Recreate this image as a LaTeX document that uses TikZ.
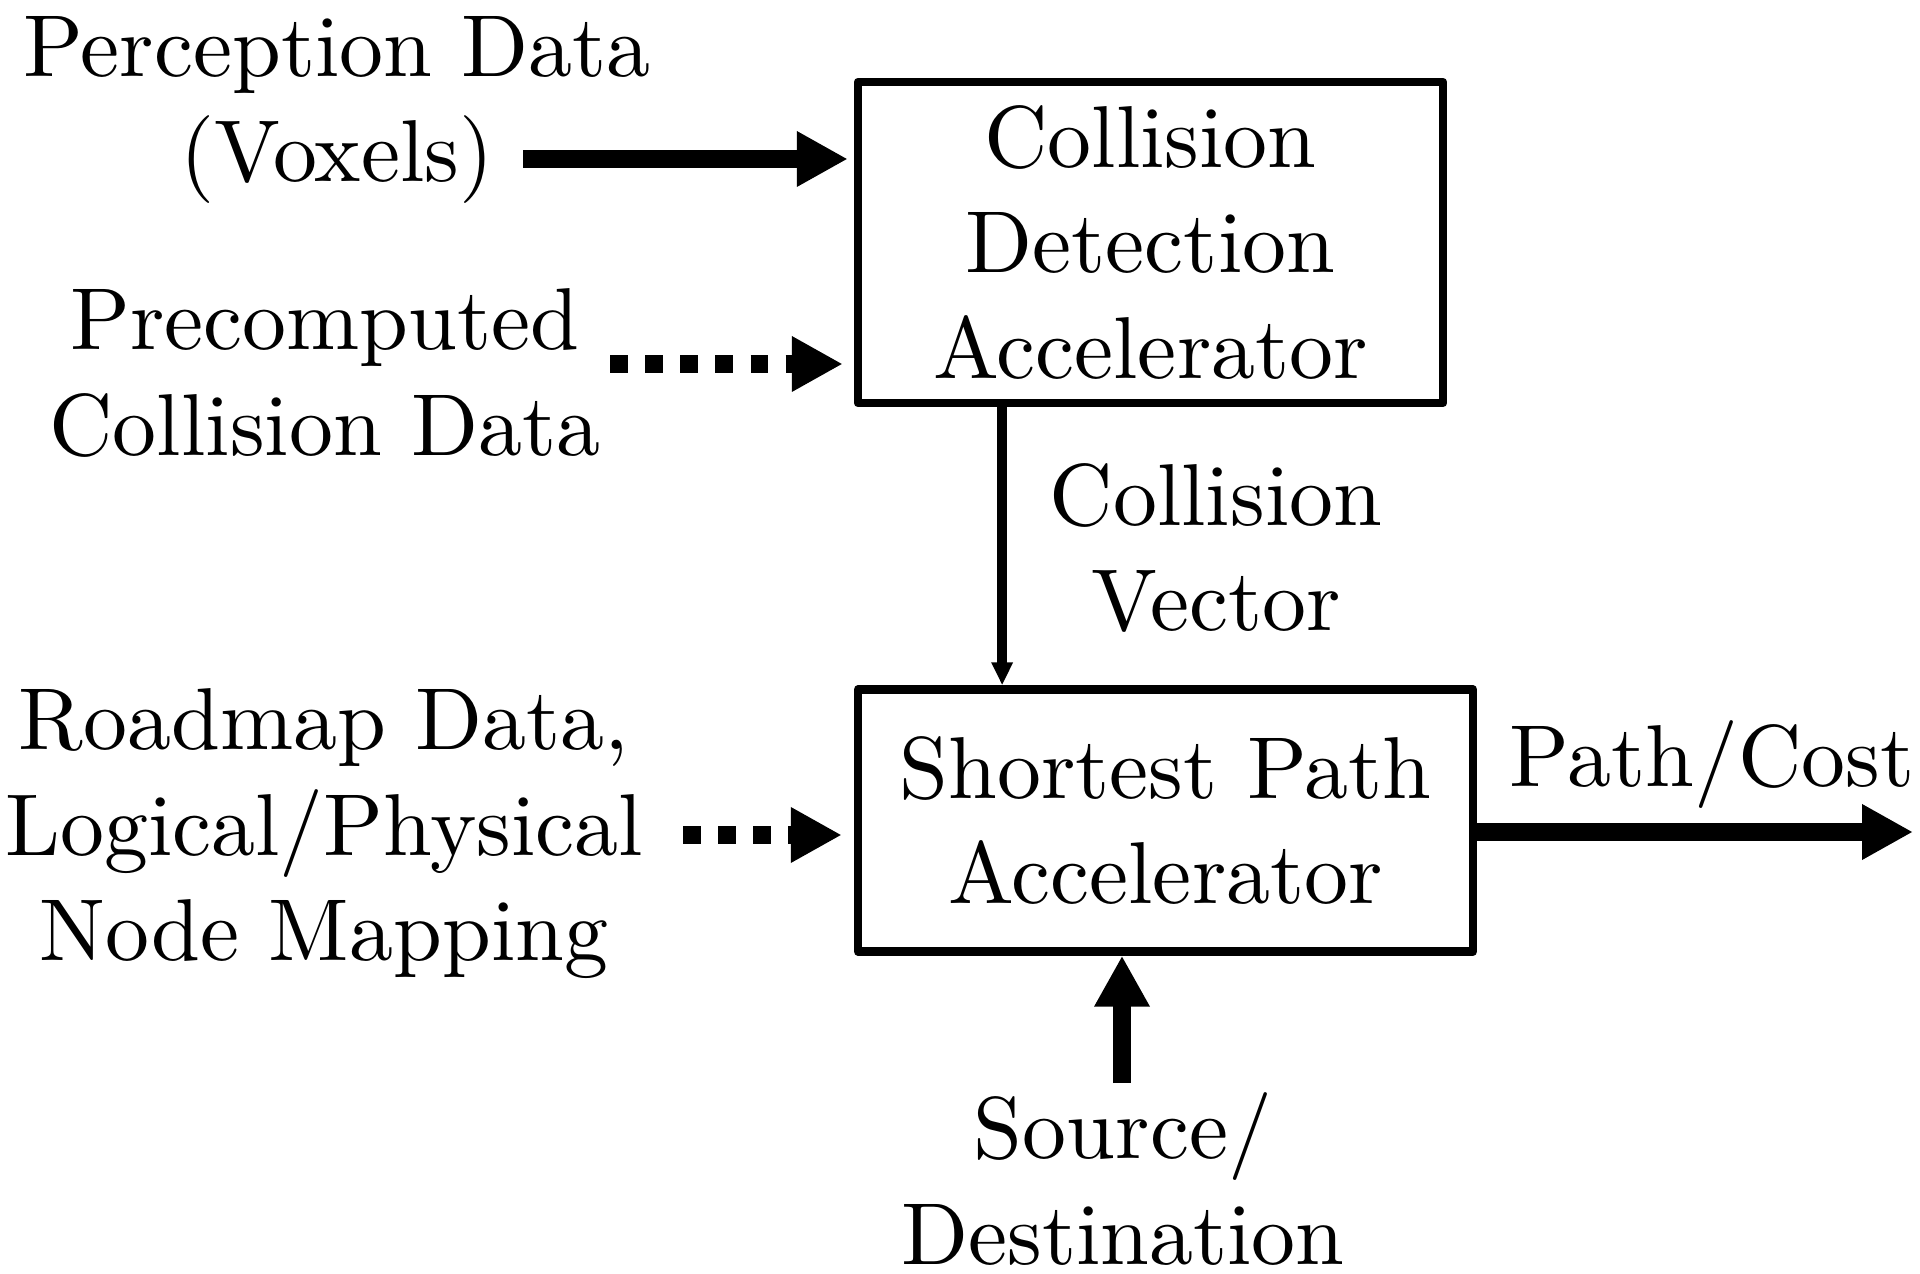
\documentclass[tikz,border=0pt]{standalone}
\usepackage{fontspec}
\setmainfont{lmroman10-regular}[Extension=.otf]
\usepackage{tikz}
\usetikzlibrary{arrows.meta,calc}
\tikzstyle{accbox} = [draw=black, line width=2.4pt, line join=round,
    rectangle, align=center]
\tikzstyle{lbl} = [align=center]
\tikzstyle{bigarrow} = [line width=5pt, -{Triangle[length=14.5pt,width=14.8pt]}]
\tikzstyle{dotarrow} = [bigarrow, dash pattern=on 5pt off 5pt]
\tikzstyle{thinarrow} = [line width=2.8pt, -{Triangle[length=6.5pt,width=5.7pt]}]

\begin{document}
\begin{tikzpicture}[font=\fontsize{25}{30}\selectfont]
\useasboundingbox (0,0) rectangle (19.2,12.73);
% the two accelerators
\node[accbox, minimum width=5.85cm, minimum height=3.21cm] (cda) at (11.505,10.305)
    {Collision\\Detection\\Accelerator};
\node[accbox, minimum width=6.15cm, minimum height=2.62cm] (spa) at (11.655,4.525)
    {Shortest Path\\Accelerator};
% inputs and outputs
\node[lbl] (perc) at (3.37,11.63) {Perception Data\\(Voxels)};
\node[lbl] (precomp) at (3.25,9.00) {Precomputed\\Collision Data};
\node[lbl] (roadmap) at (3.24,4.39) {Roadmap Data,\\Logical/Physical\\Node Mapping};
\node[lbl] (cvec) at (12.16,7.25) {Collision\\Vector};
\node[anchor=base] (cost) at (17.12,4.86) {Path/Cost};
\node[lbl, inner sep=0pt] (srcdst) at (11.23,0.94) {Source/\\Destination};
\coordinate (pin) at (5.23,11.14);
\coordinate (cin) at (6.10,9.09);
\coordinate (rin) at (6.83,4.38);
\coordinate (sin) at (11.22,1.90);
\coordinate (pout) at (19.13,4.41);
\coordinate (cvtop) at ($(cda.south west)!0.25!(cda.south east)$);
% connectors
\draw[bigarrow, shorten >=0.06cm] (pin) -- (cda.west |- pin);
\draw[dotarrow, shorten >=0.11cm] (cin) -- (cda.west |- cin);
\draw[dotarrow, shorten >=0.12cm] (rin) -- (spa.west |- rin);
\draw[thinarrow] (cvtop) -- (spa.north -| cvtop);
\draw[bigarrow] (spa.east |- pout) -- (pout);
\draw[bigarrow] (sin) -- (spa.south -| sin);
\end{tikzpicture}
\end{document}
